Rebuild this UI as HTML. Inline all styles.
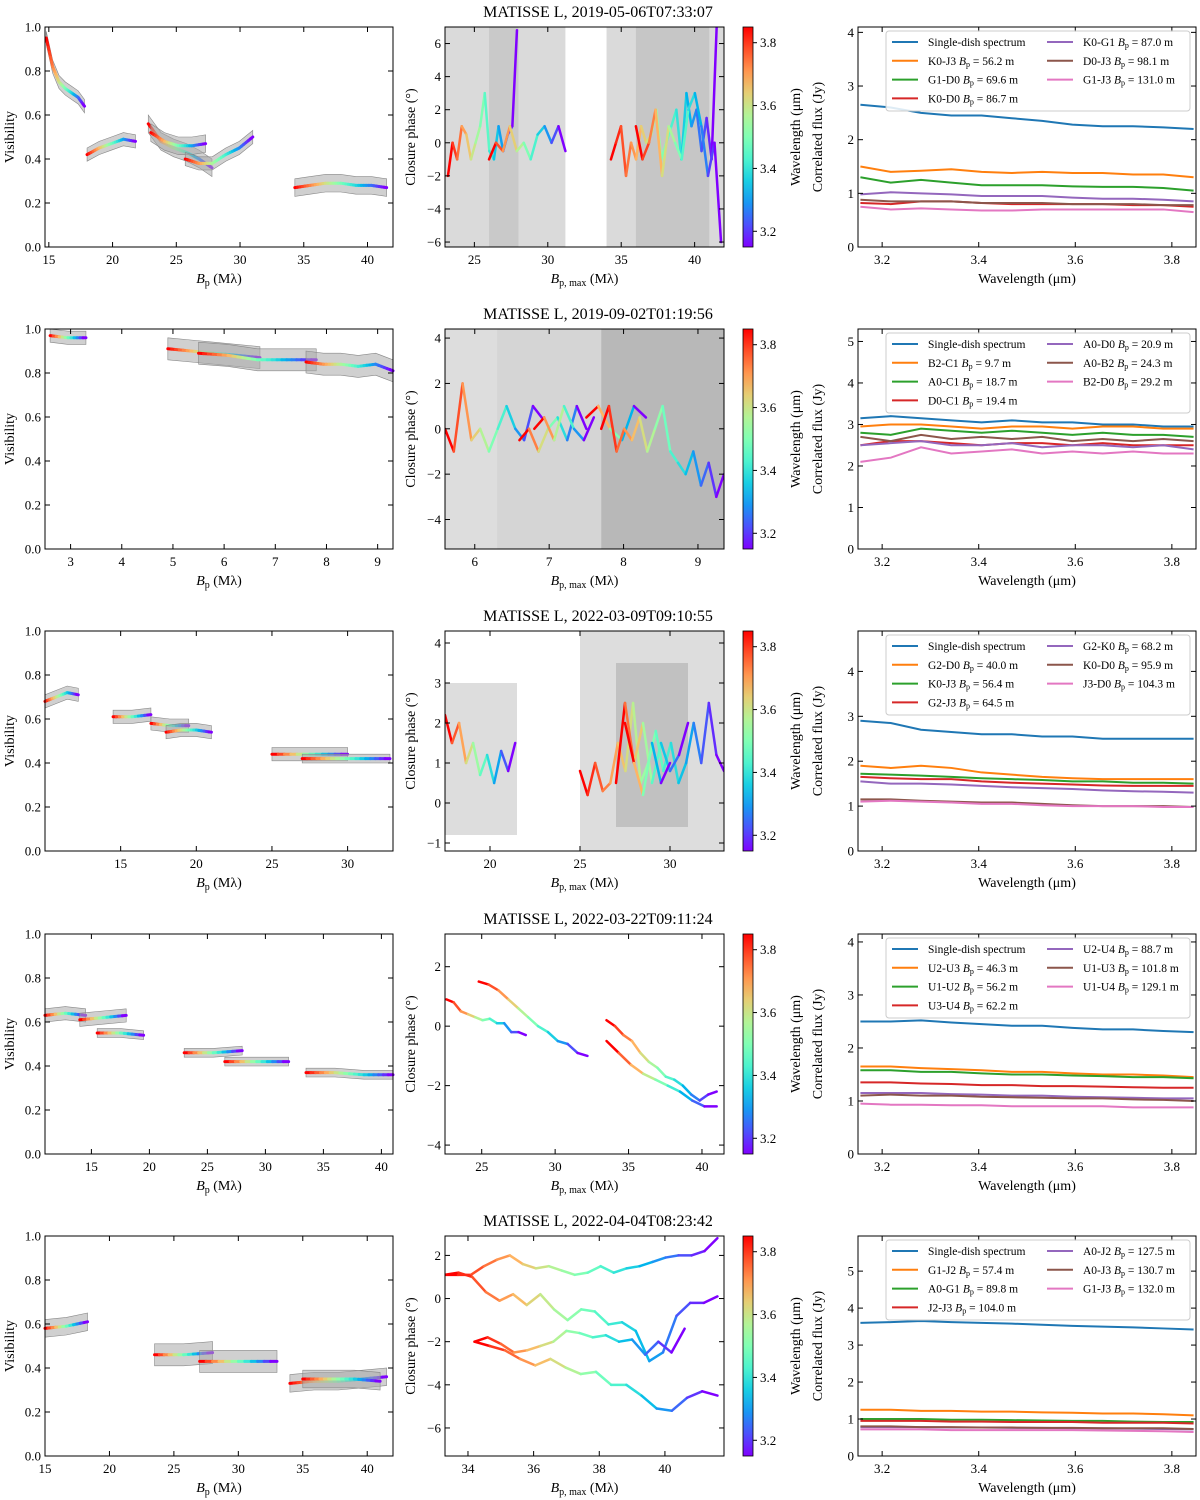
<!DOCTYPE html>
<html><head><meta charset="utf-8"><title>MATISSE L</title>
<style>
body{margin:0;background:#fff}
svg{display:block;font-family:"Liberation Serif","DejaVu Serif",serif}
</style></head>
<body>
<svg id="fig" width="1200" height="1500" viewBox="0 0 1200 1500" xmlns="http://www.w3.org/2000/svg"></svg>
<script>
// ---------- DATA ----------
const titles = ["MATISSE L, 2019-05-06T07:33:07","MATISSE L, 2019-09-02T01:19:56","MATISSE L, 2022-03-09T09:10:55","MATISSE L, 2022-03-22T09:11:24","MATISSE L, 2022-04-04T08:23:42"];
const visXRange = [[14.7,42],[2.5,9.3],[10,33],[11,41],[15,42]];
const visXTicks = [[15,20,25,30,35,40],[3,4,5,6,7,8,9],[15,20,25,30],[15,20,25,30,35,40],[15,20,25,30,35,40]];
const visYTicks = [0,0.2,0.4,0.6,0.8,1.0];
// visibility segments: [Bp start, Bp end, error, values...]
const visSegs = [
 [[14.8,17.8,0.03,0.95,0.82,0.75,0.72,0.70,0.68,0.64],[18,21.8,0.03,0.42,0.45,0.47,0.49,0.48],[22.8,27.8,0.04,0.56,0.48,0.45,0.43,0.40,0.36],[23,27.3,0.04,0.52,0.48,0.46,0.46,0.47],[25.7,31,0.03,0.40,0.38,0.38,0.42,0.45,0.50],[34.3,41.5,0.04,0.27,0.28,0.29,0.29,0.28,0.28,0.27]],
 [[2.6,3.3,0.03,0.97,0.96,0.96],[4.9,6.7,0.05,0.91,0.90,0.89,0.88,0.87],[5.5,7.8,0.05,0.89,0.88,0.86,0.86,0.86],[7.6,9.3,0.05,0.85,0.84,0.84,0.83,0.84,0.81]],
 [[10,12.2,0.03,0.68,0.70,0.72,0.71],[14.5,17,0.03,0.61,0.61,0.62],[17,19.5,0.03,0.58,0.57,0.57],[18,21,0.03,0.54,0.55,0.55,0.54],[25,30,0.03,0.44,0.44,0.44],[27,32.8,0.02,0.42,0.42,0.42,0.42]],
 [[11,14.5,0.03,0.63,0.64,0.63],[14,18,0.03,0.61,0.62,0.63],[15.5,19.5,0.02,0.55,0.55,0.54],[23,28,0.02,0.46,0.46,0.47],[26.5,32,0.02,0.42,0.42,0.42],[33.5,41,0.02,0.37,0.37,0.36,0.36]],
 [[15,18.3,0.04,0.58,0.59,0.61],[23.5,28,0.05,0.46,0.46,0.47],[27,33,0.05,0.43,0.43,0.43],[34,41.5,0.04,0.33,0.34,0.34,0.35,0.36],[35,41,0.04,0.35,0.35,0.35,0.34]]
];
const cpXRange = [[23,42],[5.6,9.35],[17.5,33],[22.5,41.5],[33.3,41.8]];
const cpYRange = [[-6.3,7],[-5.3,4.4],[-1.2,4.3],[-4.3,3.1],[-7.3,2.9]];
const cpXTicks = [[25,30,35,40],[6,7,8,9],[20,25,30],[25,30,35,40],[34,36,38,40]];
const cpYTicks = [[-6,-4,-2,0,2,4,6],[-4,-2,0,2,4],[-1,0,1,2,3,4],[-4,-2,0,2],[-6,-4,-2,0,2]];
// gray error regions: [x0,x1,y0,y1,opacity]
const cpBands = [
 [[23,31.2,-6.3,7,0.22],[26,28,-6.3,7,0.12],[34,42,-6.3,7,0.22],[36,41,-6.3,7,0.15]],
 [[5.6,7.7,-5.3,4.4,0.2],[6.3,7.7,-5.3,4.4,0.06],[7.7,9.35,-5.3,4.4,0.42]],
 [[17.5,21.5,-0.8,3,0.2],[25,33,-1.2,4.3,0.2],[27,31,-0.6,3.5,0.2]],
 [],[]
];
// closure phase lines: [x start, x end, values...]
const cpLines = [
 [[23.2,27.9,-2,0,-1,1,0.5,-1,0,1,3,-0.5,-1,1,-0.5,0.5,1,6.8],[26,31.2,-1,0,-0.5,1,-0.5,0,-1,0.5,1,0,1,-0.5],[34.3,41.5,-1,0,1,-2,0,-1,1,0,0.5,2,-1,0,1,2,-1,3,1,2,-0.5,1.5,-1,7],[36,41.8,1,-1,0,2,-2,1,0,-1,2,3,1,-2,0,-6]],
 [[5.6,6.9,0,-1,2,-0.5,0,-1,0,1,0,-0.5,1,0.5],[6.6,7.5,-0.5,0,-1,0,0.5,-0.5,1,0],[6.8,7.6,0,0.5,-0.5,1,0,-0.5,0.5],[7.5,8.3,0.5,1,0,-0.5,1,0.5],[7.7,9.35,0,1,-1,0,-0.5,0.5,-1,0,1,-1,-1.5,-2,-1,-2.5,-1.5,-3,-2]],
 [[17.5,21.4,2.2,1.5,2,1,1.5,0.7,1.2,0.5,1.3,0.8,1.5],[25,33,0.8,0.2,1,0.3,0.5,1.5,0.8,2.5,0.5,1,1.8,0.8,1.5,0.5,1,2,1,2.5,1.2,0.8],[27,31,0.5,2.5,1,2,0.5,1.5,0.8,1.2,2],[27.5,30,2,1,0.2,1.5,0.5,1]],
 [[22.6,28,0.9,0.8,0.5,0.4,0.3,0.2,0.25,0.1,0.1,-0.2,-0.2,-0.3],[24.8,32.2,1.5,1.4,1.2,0.9,0.6,0.3,0,-0.2,-0.5,-0.6,-0.9,-1],[33.5,41,0.2,0,-0.3,-0.5,-0.9,-1.2,-1.4,-1.7,-1.8,-2,-2.3,-2.5,-2.3,-2.2],[33.5,41,-0.5,-0.9,-1.3,-1.6,-1.8,-2,-2.2,-2.5,-2.7,-2.7]],
 [[33.3,41.6,1.1,1.1,1.1,1.5,1.8,2.0,1.6,1.4,1.5,1.3,1.1,1.2,1.5,1.2,1.4,1.5,1.7,1.9,2.0,2.0,2.2,2.8],[33.3,41.6,1.1,1.2,1.0,0.3,-0.1,0.2,-0.3,0.2,-0.5,-1.0,-0.5,-0.6,-1.2,-1.1,-1.5,-2.9,-2.5,-0.8,-0.2,-0.2,0.1],[34.2,40.6,-2.0,-1.8,-2.1,-2.5,-2.4,-2.2,-2.0,-1.5,-1.6,-1.8,-1.7,-2.0,-1.9,-2.6,-2.0,-2.5,-1.4],[34.2,41.6,-2.0,-2.2,-2.4,-2.8,-3.1,-2.8,-3.2,-3.5,-3.4,-4.0,-4.0,-4.5,-5.1,-5.2,-4.6,-4.3,-4.5]]
];
const cbTicks = [3.2,3.4,3.6,3.8];
const wlRange = [3.15,3.85];
const fluxXTicks = [3.2,3.4,3.6,3.8];
const fluxYMax = [4.1,5.3,4.9,4.15,5.95];
const fluxYTicks = [[0,1,2,3,4],[0,1,2,3,4,5],[0,1,2,3,4],[0,1,2,3,4],[0,1,2,3,4,5]];
const seriesColors = ["#1f77b4","#ff7f0e","#2ca02c","#d62728","#9467bd","#8c564b","#e377c2"];
const fluxLabels = [
 ["Single-dish spectrum","K0-J3|56.2","G1-D0|69.6","K0-D0|86.7","K0-G1|87.0","D0-J3|98.1","G1-J3|131.0"],
 ["Single-dish spectrum","B2-C1|9.7","A0-C1|18.7","D0-C1|19.4","A0-D0|20.9","A0-B2|24.3","B2-D0|29.2"],
 ["Single-dish spectrum","G2-D0|40.0","K0-J3|56.4","G2-J3|64.5","G2-K0|68.2","K0-D0|95.9","J3-D0|104.3"],
 ["Single-dish spectrum","U2-U3|46.3","U1-U2|56.2","U3-U4|62.2","U2-U4|88.7","U1-U3|101.8","U1-U4|129.1"],
 ["Single-dish spectrum","G1-J2|57.4","A0-G1|89.8","J2-J3|104.0","A0-J2|127.5","A0-J3|130.7","G1-J3|132.0"]
];
const fluxValues = [
 [[2.65,2.6,2.5,2.45,2.45,2.4,2.35,2.28,2.25,2.25,2.23,2.2],[1.5,1.4,1.42,1.45,1.4,1.38,1.4,1.38,1.38,1.35,1.35,1.3],[1.3,1.2,1.25,1.2,1.15,1.15,1.15,1.13,1.12,1.12,1.1,1.05],[0.82,0.8,0.85,0.85,0.82,0.8,0.8,0.8,0.8,0.78,0.78,0.75],[0.98,1.02,1.0,0.98,0.95,0.95,0.95,0.92,0.9,0.9,0.88,0.85],[0.88,0.85,0.85,0.85,0.82,0.82,0.82,0.8,0.8,0.8,0.78,0.78],[0.75,0.7,0.72,0.7,0.68,0.68,0.7,0.7,0.7,0.7,0.7,0.65]],
 [[3.15,3.2,3.15,3.1,3.05,3.1,3.05,3.05,3.0,3.0,2.95,2.95],[2.95,3.0,3.0,2.95,2.9,2.95,2.95,2.9,2.95,2.95,2.9,2.9],[2.8,2.75,2.9,2.85,2.8,2.85,2.8,2.75,2.8,2.75,2.75,2.7],[2.5,2.6,2.6,2.55,2.5,2.55,2.55,2.5,2.55,2.5,2.5,2.5],[2.5,2.55,2.6,2.5,2.5,2.55,2.45,2.5,2.5,2.45,2.5,2.4],[2.7,2.6,2.75,2.65,2.7,2.65,2.7,2.6,2.65,2.6,2.65,2.6],[2.1,2.2,2.45,2.3,2.35,2.4,2.3,2.35,2.3,2.35,2.3,2.3]],
 [[2.9,2.85,2.7,2.65,2.6,2.6,2.55,2.55,2.5,2.5,2.5,2.5],[1.9,1.85,1.9,1.85,1.75,1.7,1.65,1.62,1.6,1.6,1.6,1.6],[1.72,1.7,1.68,1.65,1.62,1.6,1.58,1.55,1.55,1.52,1.52,1.5],[1.65,1.62,1.6,1.6,1.55,1.52,1.5,1.48,1.46,1.45,1.45,1.45],[1.55,1.5,1.5,1.48,1.45,1.42,1.4,1.38,1.35,1.33,1.32,1.3],[1.15,1.15,1.12,1.1,1.08,1.08,1.05,1.02,1.0,1.0,1.0,0.98],[1.1,1.12,1.1,1.08,1.05,1.05,1.02,1.0,1.0,1.0,0.98,0.98]],
 [[2.5,2.5,2.52,2.48,2.45,2.42,2.42,2.38,2.35,2.35,2.32,2.3],[1.65,1.65,1.62,1.6,1.58,1.55,1.55,1.52,1.5,1.5,1.48,1.45],[1.58,1.58,1.55,1.55,1.52,1.5,1.5,1.48,1.47,1.45,1.45,1.43],[1.35,1.35,1.33,1.32,1.3,1.3,1.28,1.28,1.27,1.26,1.25,1.25],[1.15,1.15,1.15,1.13,1.12,1.1,1.1,1.08,1.07,1.06,1.05,1.05],[1.1,1.12,1.1,1.1,1.08,1.07,1.06,1.05,1.05,1.03,1.02,1.0],[0.95,0.93,0.93,0.92,0.92,0.9,0.9,0.9,0.9,0.88,0.88,0.88]],
 [[3.6,3.62,3.65,3.62,3.6,3.58,3.55,3.52,3.5,3.48,3.45,3.42],[1.25,1.25,1.22,1.22,1.2,1.2,1.18,1.17,1.15,1.15,1.13,1.1],[1.0,1.0,1.0,0.98,0.98,0.97,0.96,0.95,0.95,0.93,0.92,0.92],[0.95,0.95,0.95,0.93,0.93,0.92,0.92,0.92,0.9,0.9,0.9,0.88],[0.78,0.78,0.78,0.77,0.77,0.76,0.76,0.75,0.75,0.74,0.73,0.72],[0.8,0.8,0.78,0.78,0.77,0.77,0.76,0.76,0.75,0.75,0.75,0.73],[0.72,0.72,0.72,0.7,0.7,0.7,0.7,0.7,0.69,0.68,0.67,0.65]]
];
// ---------- DRAWING ----------
const NS="http://www.w3.org/2000/svg", svg=document.getElementById('fig');
function mk(tag,attrs,parent){const e=document.createElementNS(NS,tag);for(const k in attrs)e.setAttribute(k,attrs[k]);(parent||svg).appendChild(e);return e;}
function rainbow(t){const c=v=>Math.round(255*Math.max(0,Math.min(1,v)));return `rgb(${c(Math.abs(2*t-0.5))},${c(Math.sin(Math.PI*t))},${c(Math.cos(Math.PI*t/2))})`;}
function lin(d0,d1,r0,r1){return v=>r0+(v-d0)/(d1-d0)*(r1-r0);}
function axesFrame(g,x0,y0,w,h,sx,sy,xt,yt,fmtx,fmty,name){
  const f=mk('rect',{x:x0,y:y0,width:w,height:h,fill:'none',stroke:'#000','stroke-width':1},g);
  
  xt.forEach(v=>{const X=sx(v);mk('line',{x1:X,x2:X,y1:y0+h,y2:y0+h-5,stroke:'#000'},g);mk('line',{x1:X,x2:X,y1:y0,y2:y0+5,stroke:'#000'},g);
    const t=mk('text',{x:X,y:y0+h+17,'font-size':13,'text-anchor':'middle'},g);t.textContent=fmtx(v);});
  yt.forEach(v=>{const Y=sy(v);mk('line',{x1:x0,x2:x0+5,y1:Y,y2:Y,stroke:'#000'},g);mk('line',{x1:x0+w,x2:x0+w-5,y1:Y,y2:Y,stroke:'#000'},g);
    const t=mk('text',{x:x0-4,y:Y+4.5,'font-size':13,'text-anchor':'end'},g);t.textContent=fmty(v);});
}
function label(g,x,y,html,rot,name){const t=mk('text',{x:x,y:y,'font-size':14,'text-anchor':'middle'},g);if(rot)t.setAttribute('transform',`rotate(-90 ${x} ${y})`);t.innerHTML=html;return t;}
function gradLine(g,pts,width){for(let i=0;i<pts.length-1;i++){const t=1-i/(pts.length-2||1);
  mk('line',{x1:pts[i][0],y1:pts[i][1],x2:pts[i+1][0],y2:pts[i+1][1],stroke:rainbow(t),'stroke-width':width,'stroke-linecap':'round'},g);}}
const rowTop=[27,329,631,934,1236], H=220;
titles.forEach((title,r)=>{
  const y0=rowTop[r];
  const row=mk('g',{});
  const tt=mk('text',{x:598,y:y0-10,'font-size':16,'text-anchor':'middle'},row);tt.textContent=title;
  // visibility panel
  const gv=mk('g',{},row);
  const vx0=45,vw=348,sx=lin(visXRange[r][0],visXRange[r][1],vx0,vx0+vw),sy=lin(0,1,y0+H,y0);
  visSegs[r].forEach(s=>{const [a,b,e,...vals]=s;const n=vals.length;
    const P=vals.map((v,i)=>[sx(a+(b-a)*i/(n-1)),sy(v)]);
    const up=vals.map((v,i)=>sx(a+(b-a)*i/(n-1))+','+sy(v+e)),dn=vals.map((v,i)=>sx(a+(b-a)*i/(n-1))+','+sy(v-e)).reverse();
    const band=mk('polygon',{points:up.concat(dn).join(' '),fill:'#aaa','fill-opacity':0.55,stroke:'#888','stroke-width':0.6},gv);
    
    const fine=[];for(let i=0;i<n-1;i++)for(let k=0;k<6;k++){const f=k/6;fine.push([P[i][0]+(P[i+1][0]-P[i][0])*f,P[i][1]+(P[i+1][1]-P[i][1])*f]);}fine.push(P[n-1]);
    gradLine(gv,fine,3);});
  axesFrame(gv,vx0,y0,vw,H,sx,sy,visXTicks[r],visYTicks,v=>v,v=>v.toFixed(1),'visibility');
  label(gv,14,y0+H/2,'Visibility',true,'visibility-y-title');
  label(gv,vx0+vw/2,y0+H+36,'<tspan font-style="italic">B</tspan><tspan font-size="10" dy="3">p</tspan><tspan dy="-3"> (Mλ)</tspan>',false,'baseline-x-title');
  // closure phase panel
  const gc=mk('g',{},row);
  const cx0=445,cw=279,cx=lin(cpXRange[r][0],cpXRange[r][1],cx0,cx0+cw),cy=lin(cpYRange[r][0],cpYRange[r][1],y0+H,y0);
  const clip=mk('clipPath',{id:'clip'+r},gc);mk('rect',{x:cx0,y:y0,width:cw,height:H},clip);
  const inner=mk('g',{'clip-path':`url(#clip${r})`},gc);
  cpBands[r].forEach(b=>{const e=mk('rect',{x:cx(b[0]),y:cy(b[3]),width:cx(b[1])-cx(b[0]),height:cy(b[2])-cy(b[3]),fill:'#555','fill-opacity':b[4]},inner);});
  cpLines[r].forEach(l=>{const [a,b,...vals]=l;const n=vals.length;gradLine(inner,vals.map((v,i)=>[cx(a+(b-a)*i/(n-1)),cy(v)]),2.5);});
  axesFrame(gc,cx0,y0,cw,H,cx,cy,cpXTicks[r],cpYTicks[r],v=>v,v=>v<0?'−'+(-v):v,'closure-phase');
  label(gc,415,y0+H/2,'Closure phase (°)',true,'closure-phase-y-title');
  label(gc,cx0+cw/2,y0+H+36,'<tspan font-style="italic">B</tspan><tspan font-size="10" dy="3">p, max</tspan><tspan dy="-3"> (Mλ)</tspan>',false,'baseline-max-x-title');
  // colorbar
  const gb=mk('g',{},row);
  const gid='cb'+r;const lg=mk('linearGradient',{id:gid,x1:0,y1:1,x2:0,y2:0},gb);
  for(let i=0;i<=10;i++)mk('stop',{offset:i/10,'stop-color':rainbow(i/10)},lg);
  mk('rect',{x:743,y:y0,width:10,height:H,fill:`url(#${gid})`,stroke:'#000','stroke-width':0.8},gb);
  const cby=lin(wlRange[0],wlRange[1],y0+H,y0);
  cbTicks.forEach(v=>{mk('line',{x1:753,x2:757,y1:cby(v),y2:cby(v),stroke:'#000'},gb);const t=mk('text',{x:760,y:cby(v)+4.5,'font-size':13},gb);t.textContent=v.toFixed(1);});
  label(gb,800,y0+H/2,'Wavelength (μm)',true,'colorbar-title');
  // flux panel
  const gf=mk('g',{},row);
  const fx0=858,fw=338,fx=lin(wlRange[0],wlRange[1],fx0,fx0+fw),fy=lin(0,fluxYMax[r],y0+H,y0);
  fluxValues[r].forEach((vals,k)=>{const n=vals.length;const pts=vals.map((v,i)=>fx(3.155+0.69*i/(n-1))+','+fy(v)).join(' ');
    const pl=mk('polyline',{points:pts,fill:'none',stroke:seriesColors[k],'stroke-width':2},gf);});
  axesFrame(gf,fx0,y0,fw,H,fx,fy,fluxXTicks,fluxYTicks[r],v=>v.toFixed(1),v=>v,'flux');
  label(gf,822,y0+H/2,'Correlated flux (Jy)',true,'flux-y-title');
  label(gf,fx0+fw/2,y0+H+36,'Wavelength (μm)',false,'flux-x-title');
  // legend
  const lgG=mk('g',{},gf);
  mk('rect',{x:886,y:y0+4,width:304,height:80,rx:3,fill:'#fff','fill-opacity':0.85,stroke:'#ccc'},lgG);
  fluxLabels[r].forEach((lab,k)=>{const col=k<4?0:1,row_=k<4?k:k-4;const lx=col?1047:892,ly=y0+15+row_*18.8;
    mk('line',{x1:lx,x2:lx+26,y1:ly,y2:ly,stroke:seriesColors[k],'stroke-width':2},lgG);
    const t=mk('text',{x:lx+36,y:ly+4,'font-size':11.5},lgG);
    if(k===0)t.textContent=lab;else{const [b,m]=lab.split('|');t.innerHTML=`${b} <tspan font-style="italic">B</tspan><tspan font-size="8" dy="2">p</tspan><tspan dy="-2"> = ${m} m</tspan>`;}});
});
</script>
</body></html>
